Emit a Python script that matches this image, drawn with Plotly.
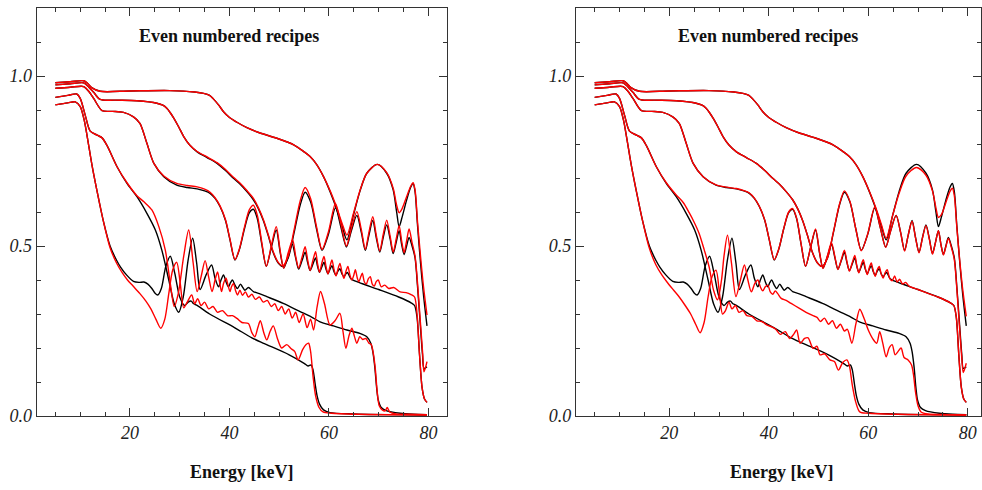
import plotly.graph_objects as go

# --- values: (energy keV, reflectivity) ---

# black curves (model), same in both panels
black_1 = [(5.0, 0.980), (8.0, 0.983), (10.7, 0.986), (11.5, 0.978), (12.3, 0.966), (14.0, 0.955),
           (20.0, 0.956), (28.0, 0.957), (33.0, 0.953), (34.8, 0.949), (36.0, 0.943), (36.8, 0.932),
           (37.8, 0.915), (38.8, 0.895), (40.0, 0.878), (41.5, 0.864), (43.5, 0.848), (46.0, 0.833),
           (49.5, 0.817), (53.0, 0.797), (55.0, 0.777), (56.2, 0.763), (57.5, 0.740), (58.9, 0.704),
           (60.3, 0.657), (61.5, 0.610), (62.6, 0.560), (63.6, 0.518), (64.9, 0.590), (66.2, 0.660),
           (67.6, 0.714), (69.7, 0.740), (71.6, 0.714), (72.9, 0.665), (73.6, 0.600), (74.1, 0.557),
           (74.7, 0.585), (75.6, 0.635), (76.4, 0.672), (76.9, 0.684), (77.3, 0.660), (77.8, 0.560),
           (78.4, 0.450), (79.0, 0.355), (79.7, 0.265)]
black_2 = [(5.0, 0.974), (8.0, 0.977), (10.7, 0.980), (11.7, 0.968), (12.7, 0.952), (14.0, 0.931),
           (17.0, 0.929), (21.4, 0.927), (25.4, 0.920), (26.6, 0.914), (27.4, 0.905), (28.1, 0.892),
           (28.8, 0.876), (29.8, 0.850), (30.8, 0.822), (32.0, 0.797), (33.5, 0.777), (35.5, 0.760),
           (37.5, 0.743), (39.2, 0.722), (40.8, 0.699), (42.2, 0.681), (43.5, 0.660), (44.8, 0.636),
           (45.8, 0.610), (46.8, 0.575), (47.8, 0.530), (48.8, 0.480), (49.8, 0.450), (50.7, 0.440),
           (51.8, 0.465), (53.0, 0.540), (54.2, 0.620), (55.2, 0.658), (56.3, 0.630), (57.5, 0.550),
           (58.6, 0.487), (59.9, 0.535), (61.3, 0.612), (62.4, 0.555), (63.5, 0.497), (64.5, 0.545),
           (65.6, 0.590), (66.5, 0.540), (67.3, 0.487), (68.0, 0.530), (68.8, 0.575), (69.5, 0.525),
           (70.2, 0.482), (70.9, 0.525), (71.6, 0.562), (72.3, 0.520), (72.9, 0.478), (73.5, 0.510),
           (74.1, 0.545), (74.6, 0.505), (75.1, 0.475), (75.6, 0.500), (76.1, 0.525), (76.7, 0.500),
           (77.3, 0.465), (77.8, 0.380), (78.3, 0.280), (78.8, 0.180), (79.1, 0.140), (79.7, 0.145)]
black_3 = [(5.0, 0.964), (8.0, 0.967), (10.7, 0.969), (11.7, 0.955), (12.7, 0.934), (14.4, 0.898),
           (16.5, 0.896), (18.7, 0.893), (20.7, 0.880), (22.0, 0.861), (23.4, 0.802), (24.8, 0.743),
           (26.8, 0.704), (29.4, 0.679), (31.5, 0.672), (33.5, 0.668), (35.0, 0.662), (36.1, 0.655),
           (37.1, 0.640), (38.1, 0.616), (39.2, 0.575), (40.1, 0.518), (41.1, 0.459), (42.0, 0.490),
           (43.0, 0.550), (44.0, 0.598), (44.8, 0.608), (45.6, 0.580), (46.5, 0.505), (47.4, 0.440),
           (48.4, 0.495), (49.4, 0.547), (50.2, 0.480), (50.9, 0.435), (51.8, 0.470), (52.6, 0.505),
           (53.3, 0.465), (53.9, 0.432), (54.6, 0.458), (55.2, 0.482), (55.7, 0.452), (56.2, 0.428),
           (56.8, 0.448), (57.3, 0.465), (57.7, 0.440), (58.1, 0.423), (58.6, 0.440), (59.0, 0.452),
           (59.4, 0.432), (59.8, 0.418), (60.2, 0.432), (60.6, 0.442), (61.0, 0.425), (61.4, 0.414),
           (61.8, 0.426), (62.2, 0.433), (62.6, 0.418), (63.0, 0.410), (63.4, 0.418), (63.7, 0.422),
           (64.4, 0.404), (66.0, 0.393), (70.0, 0.372), (74.0, 0.350), (76.5, 0.333), (77.2, 0.325),
           (77.7, 0.290), (78.2, 0.180), (78.7, 0.085), (79.2, 0.050), (79.7, 0.040)]
black_4 = [(5.0, 0.937), (7.5, 0.943), (9.3, 0.947), (10.0, 0.934), (11.0, 0.885), (12.0, 0.838),
           (13.4, 0.826), (14.4, 0.818), (15.4, 0.795), (17.4, 0.733), (19.4, 0.684), (21.4, 0.645),
           (23.4, 0.596), (25.1, 0.547), (26.4, 0.488), (27.8, 0.400), (28.9, 0.330), (29.8, 0.305),
           (30.7, 0.350), (31.7, 0.460), (32.6, 0.523), (33.4, 0.450), (34.1, 0.372), (35.3, 0.415),
           (36.4, 0.444), (37.1, 0.405), (37.8, 0.380), (38.3, 0.400), (38.8, 0.415), (39.3, 0.395),
           (39.8, 0.380), (40.2, 0.392), (40.6, 0.400), (41.1, 0.385), (41.6, 0.375), (42.2, 0.388),
           (42.6, 0.380), (43.1, 0.370), (43.8, 0.378), (44.8, 0.366), (46.0, 0.360), (47.5, 0.351),
           (50.8, 0.331), (54.2, 0.307), (56.5, 0.291), (58.2, 0.277), (60.9, 0.265), (63.6, 0.253),
           (66.2, 0.243), (67.6, 0.233), (68.4, 0.214), (68.8, 0.190), (69.2, 0.145), (69.6, 0.080),
           (69.9, 0.047), (70.5, 0.025), (71.5, 0.016), (74.3, 0.008), (77.0, 0.005), (79.7, 0.004)]
black_5 = [(5.0, 0.915), (7.5, 0.921), (9.0, 0.924), (10.0, 0.910), (10.8, 0.870), (11.4, 0.822),
           (12.4, 0.735), (13.4, 0.660), (14.7, 0.570), (16.0, 0.500), (17.3, 0.458), (18.1, 0.438),
           (19.3, 0.415), (20.7, 0.396), (21.8, 0.393), (22.8, 0.394), (23.6, 0.388), (24.4, 0.375),
           (25.0, 0.362), (25.6, 0.356), (26.3, 0.375), (27.2, 0.440), (28.1, 0.470), (29.0, 0.420),
           (30.0, 0.350), (31.0, 0.325), (31.7, 0.335), (32.3, 0.338), (32.8, 0.330), (33.4, 0.326),
           (36.0, 0.300), (41.0, 0.260), (44.5, 0.230), (47.0, 0.213), (52.0, 0.180), (55.0, 0.155),
           (55.8, 0.147), (56.4, 0.150), (56.8, 0.135), (57.2, 0.096), (57.6, 0.060), (58.1, 0.035),
           (58.9, 0.018), (60.2, 0.010), (65.0, 0.006), (72.0, 0.004), (79.7, 0.003)]

# red curves, left panel
red_left_1 = [(5.0, 0.980), (8.0, 0.983), (10.7, 0.986), (11.5, 0.978), (12.3, 0.966), (14.0, 0.955),
              (20.0, 0.956), (28.0, 0.957), (33.0, 0.953), (34.8, 0.949), (36.0, 0.943), (36.8, 0.932),
              (37.8, 0.915), (38.8, 0.895), (40.0, 0.878), (41.5, 0.864), (43.5, 0.848), (46.0, 0.833),
              (49.5, 0.817), (53.0, 0.797), (55.0, 0.777), (56.2, 0.763), (57.5, 0.740), (58.9, 0.704),
              (60.3, 0.660), (61.5, 0.615), (62.6, 0.568), (63.6, 0.532), (64.9, 0.595), (66.2, 0.662),
              (67.6, 0.714), (69.7, 0.740), (71.6, 0.716), (72.9, 0.670), (73.6, 0.620), (74.1, 0.598),
              (74.7, 0.610), (75.6, 0.645), (76.4, 0.675), (76.9, 0.686), (77.3, 0.665), (77.8, 0.570),
              (78.4, 0.470), (79.0, 0.380), (79.7, 0.297)]
red_left_2 = [(5.0, 0.974), (8.0, 0.977), (10.7, 0.980), (11.7, 0.968), (12.7, 0.952), (14.0, 0.931),
              (17.0, 0.929), (21.4, 0.927), (25.4, 0.920), (26.6, 0.914), (27.4, 0.905), (28.1, 0.892),
              (28.8, 0.876), (29.8, 0.850), (30.8, 0.822), (32.0, 0.797), (33.5, 0.778), (35.5, 0.762),
              (37.5, 0.745), (39.2, 0.725), (40.8, 0.702), (42.2, 0.684), (43.5, 0.663), (44.8, 0.640),
              (45.8, 0.613), (46.8, 0.578), (47.8, 0.533), (48.8, 0.483), (49.8, 0.452), (50.7, 0.442),
              (51.8, 0.470), (53.0, 0.548), (54.2, 0.632), (55.2, 0.672), (56.3, 0.640), (57.5, 0.556),
              (58.6, 0.490), (59.9, 0.542), (61.3, 0.625), (62.4, 0.565), (63.5, 0.500), (64.5, 0.552),
              (65.6, 0.601), (66.5, 0.548), (67.3, 0.490), (68.0, 0.538), (68.8, 0.586), (69.5, 0.532),
              (70.2, 0.485), (70.9, 0.534), (71.6, 0.576), (72.3, 0.528), (72.9, 0.482), (73.5, 0.520),
              (74.1, 0.560), (74.6, 0.515), (75.1, 0.480), (75.6, 0.515), (76.1, 0.550), (76.7, 0.510),
              (77.3, 0.470), (77.8, 0.390), (78.3, 0.290), (78.8, 0.190), (79.1, 0.130), (79.7, 0.160)]
red_left_3 = [(5.0, 0.964), (8.0, 0.967), (10.7, 0.969), (11.7, 0.955), (12.7, 0.934), (14.4, 0.898),
              (16.5, 0.896), (18.7, 0.893), (20.7, 0.880), (22.0, 0.861), (23.4, 0.802), (24.8, 0.743),
              (26.8, 0.706), (29.4, 0.684), (31.5, 0.678), (33.5, 0.674), (35.0, 0.667), (36.1, 0.658),
              (37.1, 0.642), (38.1, 0.618), (39.2, 0.577), (40.1, 0.520), (41.1, 0.460), (42.0, 0.492),
              (43.0, 0.555), (44.0, 0.607), (44.8, 0.620), (45.6, 0.590), (46.5, 0.510), (47.4, 0.440),
              (48.4, 0.500), (49.4, 0.557), (50.2, 0.485), (50.9, 0.435), (51.8, 0.480), (52.7, 0.518),
              (53.3, 0.470), (53.9, 0.435), (54.6, 0.468), (55.2, 0.498), (55.7, 0.460), (56.2, 0.428),
              (56.8, 0.460), (57.3, 0.483), (57.7, 0.448), (58.1, 0.423), (58.6, 0.452), (59.0, 0.469),
              (59.4, 0.440), (59.8, 0.418), (60.2, 0.440), (60.6, 0.459), (61.0, 0.432), (61.4, 0.412),
              (61.8, 0.432), (62.2, 0.449), (62.6, 0.424), (63.0, 0.405), (63.4, 0.425), (63.8, 0.440),
              (64.2, 0.415), (64.6, 0.400), (65.0, 0.415), (65.3, 0.430), (65.7, 0.405), (66.0, 0.395),
              (66.4, 0.410), (66.7, 0.420), (67.1, 0.395), (67.5, 0.388), (67.9, 0.403), (68.3, 0.410),
              (68.7, 0.388), (69.1, 0.382), (69.5, 0.395), (69.9, 0.400), (70.5, 0.380), (71.2, 0.385),
              (72.0, 0.375), (73.0, 0.378), (74.3, 0.365), (75.5, 0.363), (76.5, 0.357), (77.2, 0.350),
              (77.7, 0.300), (78.2, 0.180), (78.7, 0.085), (79.2, 0.050), (79.7, 0.040)]
red_left_4 = [(5.0, 0.937), (7.5, 0.943), (9.3, 0.947), (10.0, 0.934), (11.0, 0.885), (12.0, 0.838),
              (13.4, 0.826), (14.4, 0.818), (15.4, 0.795), (17.4, 0.733), (19.4, 0.686), (21.4, 0.648),
              (22.8, 0.630), (24.4, 0.606), (25.8, 0.557), (27.1, 0.488), (28.1, 0.390), (28.9, 0.322),
              (29.7, 0.360), (30.8, 0.470), (31.8, 0.547), (32.7, 0.450), (33.5, 0.366), (34.3, 0.410),
              (35.1, 0.457), (35.8, 0.410), (36.5, 0.366), (37.1, 0.400), (37.6, 0.424), (38.0, 0.395),
              (38.4, 0.366), (38.8, 0.390), (39.3, 0.405), (39.7, 0.385), (40.1, 0.366), (40.4, 0.380),
              (40.8, 0.390), (41.2, 0.370), (41.6, 0.356), (42.1, 0.370), (42.6, 0.355), (43.2, 0.365),
              (43.8, 0.350), (44.5, 0.358), (45.2, 0.343), (46.0, 0.350), (46.8, 0.335), (47.6, 0.340),
              (48.4, 0.322), (49.1, 0.330), (49.8, 0.310), (50.5, 0.322), (51.2, 0.300), (51.9, 0.315),
              (52.6, 0.288), (53.3, 0.305), (54.0, 0.275), (54.8, 0.300), (55.6, 0.260), (56.3, 0.285),
              (56.9, 0.253), (57.6, 0.320), (58.3, 0.366), (59.1, 0.330), (60.2, 0.268), (61.2, 0.280),
              (62.2, 0.302), (62.8, 0.250), (63.4, 0.199), (64.0, 0.235), (64.6, 0.258), (65.1, 0.235),
              (65.6, 0.214), (66.2, 0.233), (66.8, 0.225), (67.4, 0.228), (68.0, 0.215), (68.5, 0.210),
              (68.9, 0.185), (69.3, 0.140), (69.7, 0.070), (70.1, 0.030), (70.7, 0.018), (71.3, 0.015),
              (71.7, 0.025), (72.2, 0.012), (73.5, 0.006), (76.0, 0.005), (79.7, 0.004)]
red_left_5 = [(5.0, 0.915), (7.5, 0.921), (9.0, 0.924), (10.0, 0.910), (10.8, 0.870), (11.4, 0.822),
              (12.4, 0.735), (13.4, 0.660), (14.7, 0.570), (16.0, 0.495), (17.3, 0.450), (18.5, 0.420),
              (19.5, 0.400), (20.7, 0.381), (22.0, 0.360), (23.2, 0.338), (24.2, 0.315), (25.2, 0.285),
              (26.2, 0.258), (27.0, 0.285), (27.8, 0.360), (28.6, 0.430), (29.4, 0.452), (30.1, 0.390),
              (30.8, 0.318), (31.5, 0.335), (32.4, 0.356), (33.0, 0.330), (33.6, 0.345), (34.3, 0.325),
              (35.0, 0.335), (35.8, 0.315), (36.7, 0.322), (37.6, 0.305), (38.6, 0.310), (39.6, 0.295),
              (40.6, 0.295), (41.5, 0.287), (42.5, 0.275), (43.8, 0.272), (44.5, 0.245), (45.1, 0.233),
              (45.7, 0.260), (46.2, 0.280), (46.9, 0.245), (47.5, 0.224), (48.2, 0.250), (48.8, 0.265),
              (49.7, 0.225), (50.5, 0.200), (51.5, 0.210), (52.4, 0.198), (53.1, 0.190), (53.8, 0.165),
              (54.7, 0.195), (55.4, 0.210), (55.9, 0.214), (56.3, 0.190), (56.8, 0.116), (57.3, 0.060),
              (58.0, 0.025), (58.8, 0.012), (60.5, 0.008), (66.0, 0.005), (79.7, 0.003)]

# red curves, right panel
red_right_1 = [(5.0, 0.980), (8.0, 0.983), (10.7, 0.986), (11.5, 0.978), (12.3, 0.966), (14.0, 0.955),
               (20.0, 0.956), (28.0, 0.957), (33.0, 0.953), (34.8, 0.949), (36.0, 0.943), (36.8, 0.932),
               (37.8, 0.915), (38.8, 0.895), (40.0, 0.878), (41.5, 0.864), (43.5, 0.848), (46.0, 0.833),
               (49.5, 0.817), (53.0, 0.797), (55.0, 0.777), (56.2, 0.763), (57.5, 0.740), (58.9, 0.704),
               (60.3, 0.658), (61.5, 0.613), (62.6, 0.565), (63.6, 0.523), (64.9, 0.590), (66.2, 0.655),
               (67.6, 0.706), (69.7, 0.731), (71.6, 0.708), (72.9, 0.662), (73.6, 0.612), (74.1, 0.584),
               (74.7, 0.592), (75.6, 0.628), (76.4, 0.660), (76.9, 0.670), (77.3, 0.648), (77.8, 0.555),
               (78.4, 0.455), (79.0, 0.370), (79.7, 0.293)]
red_right_2 = [(5.0, 0.974), (8.0, 0.977), (10.7, 0.980), (11.7, 0.968), (12.7, 0.952), (14.0, 0.931),
               (17.0, 0.929), (21.4, 0.927), (25.4, 0.920), (26.6, 0.914), (27.4, 0.905), (28.1, 0.892),
               (28.8, 0.876), (29.8, 0.850), (30.8, 0.822), (32.0, 0.797), (33.5, 0.777), (35.5, 0.760),
               (37.5, 0.743), (39.2, 0.722), (40.8, 0.699), (42.2, 0.681), (43.5, 0.660), (44.8, 0.636),
               (45.8, 0.610), (46.8, 0.575), (47.8, 0.530), (48.8, 0.480), (49.8, 0.450), (50.7, 0.440),
               (51.8, 0.465), (53.0, 0.542), (54.2, 0.622), (55.2, 0.662), (56.3, 0.632), (57.5, 0.550),
               (58.6, 0.486), (59.9, 0.536), (61.3, 0.615), (62.4, 0.556), (63.5, 0.496), (64.5, 0.545),
               (65.6, 0.590), (66.5, 0.540), (67.3, 0.485), (68.0, 0.530), (68.8, 0.573), (69.5, 0.524),
               (70.2, 0.480), (70.9, 0.524), (71.6, 0.560), (72.3, 0.518), (72.9, 0.476), (73.5, 0.510),
               (74.1, 0.545), (74.6, 0.505), (75.1, 0.474), (75.6, 0.498), (76.1, 0.522), (76.7, 0.496),
               (77.3, 0.460), (77.8, 0.375), (78.3, 0.270), (78.8, 0.170), (79.1, 0.128), (79.7, 0.155)]
red_right_3 = [(5.0, 0.964), (8.0, 0.967), (10.7, 0.969), (11.7, 0.955), (12.7, 0.934), (14.4, 0.898),
               (16.5, 0.896), (18.7, 0.893), (20.7, 0.880), (22.0, 0.861), (23.4, 0.802), (24.8, 0.743),
               (26.8, 0.704), (29.4, 0.680), (31.5, 0.673), (33.5, 0.669), (35.0, 0.663), (36.1, 0.656),
               (37.1, 0.641), (38.1, 0.617), (39.2, 0.576), (40.1, 0.519), (41.1, 0.460), (42.0, 0.491),
               (43.0, 0.551), (44.0, 0.600), (44.8, 0.610), (45.6, 0.582), (46.5, 0.506), (47.4, 0.440),
               (48.4, 0.496), (49.4, 0.550), (50.2, 0.482), (50.9, 0.434), (51.8, 0.472), (52.6, 0.510),
               (53.3, 0.468), (53.9, 0.431), (54.6, 0.461), (55.2, 0.488), (55.7, 0.455), (56.2, 0.426),
               (56.8, 0.452), (57.3, 0.472), (57.7, 0.442), (58.1, 0.421), (58.6, 0.445), (59.0, 0.460),
               (59.4, 0.435), (59.8, 0.416), (60.2, 0.436), (60.6, 0.450), (61.0, 0.427), (61.4, 0.411),
               (61.8, 0.430), (62.2, 0.440), (62.6, 0.418), (63.0, 0.406), (63.4, 0.422), (63.8, 0.430),
               (64.3, 0.405), (64.8, 0.398), (65.3, 0.412), (65.8, 0.394), (66.3, 0.402), (66.9, 0.388),
               (67.5, 0.393), (68.2, 0.382), (70.0, 0.372), (74.0, 0.350), (76.5, 0.333), (77.2, 0.325),
               (77.7, 0.290), (78.2, 0.180), (78.7, 0.085), (79.2, 0.050), (79.7, 0.040)]
red_right_4 = [(5.0, 0.937), (7.5, 0.943), (9.3, 0.947), (10.0, 0.934), (11.0, 0.885), (12.0, 0.838),
               (13.4, 0.826), (14.4, 0.818), (15.4, 0.795), (17.4, 0.733), (19.4, 0.686), (21.4, 0.650),
               (22.8, 0.628), (24.0, 0.598), (25.0, 0.570), (26.0, 0.537), (27.0, 0.490), (28.0, 0.439),
               (28.9, 0.370), (29.7, 0.342), (30.5, 0.400), (31.0, 0.470), (31.7, 0.532), (32.5, 0.450),
               (33.4, 0.351), (34.3, 0.400), (35.1, 0.444), (35.8, 0.400), (36.5, 0.365), (37.2, 0.390),
               (37.8, 0.400), (38.3, 0.380), (38.8, 0.368), (39.3, 0.380), (39.8, 0.385), (40.3, 0.365),
               (40.8, 0.358), (41.3, 0.368), (41.8, 0.360), (42.5, 0.346), (43.5, 0.340), (44.5, 0.331),
               (46.0, 0.318), (47.5, 0.305), (48.9, 0.295), (49.7, 0.290), (50.4, 0.278), (51.2, 0.288),
               (52.0, 0.270), (52.8, 0.280), (53.6, 0.258), (54.4, 0.270), (55.2, 0.250), (55.8, 0.255),
               (56.7, 0.214), (57.5, 0.270), (58.3, 0.314), (59.2, 0.285), (60.0, 0.253), (61.0, 0.225),
               (61.7, 0.214), (62.3, 0.248), (62.9, 0.215), (63.6, 0.174), (64.2, 0.200), (64.8, 0.210),
               (65.4, 0.180), (66.0, 0.190), (66.6, 0.200), (67.2, 0.172), (68.0, 0.165), (68.7, 0.150),
               (69.1, 0.120), (69.5, 0.070), (70.0, 0.030), (70.6, 0.012), (72.0, 0.006), (76.0, 0.004),
               (79.7, 0.003)]
red_right_5 = [(5.0, 0.915), (7.5, 0.921), (9.0, 0.924), (10.0, 0.910), (10.8, 0.870), (11.4, 0.822),
               (12.4, 0.735), (13.4, 0.660), (14.7, 0.570), (16.0, 0.493), (17.3, 0.445), (18.5, 0.415),
               (19.5, 0.395), (20.7, 0.373), (22.0, 0.350), (23.2, 0.325), (24.3, 0.300), (25.3, 0.270),
               (26.2, 0.245), (27.0, 0.275), (27.8, 0.350), (28.6, 0.410), (29.4, 0.429), (30.1, 0.360),
               (30.7, 0.300), (31.3, 0.310), (32.0, 0.335), (32.6, 0.315), (33.3, 0.325), (34.0, 0.305),
               (34.8, 0.310), (35.6, 0.295), (36.6, 0.293), (37.6, 0.280), (38.6, 0.278), (39.6, 0.268),
               (40.6, 0.262), (41.4, 0.255), (42.3, 0.240), (43.3, 0.248), (44.2, 0.228), (45.0, 0.240),
               (45.6, 0.253), (46.3, 0.214), (47.2, 0.228), (47.9, 0.230), (48.9, 0.199), (49.7, 0.205),
               (50.3, 0.180), (51.2, 0.183), (52.3, 0.165), (53.2, 0.160), (54.0, 0.135), (54.9, 0.158),
               (55.7, 0.165), (56.2, 0.148), (56.8, 0.090), (57.5, 0.040), (58.3, 0.012), (60.0, 0.008),
               (66.0, 0.005), (79.7, 0.003)]

title_text = "Even numbered recipes"
xlabel_text = "Energy [keV]"
y_tick_vals = [0.0, 0.5, 1.0]
x_tick_vals = [20, 40, 60, 80]

black_curves = [black_1, black_2, black_3, black_4, black_5]
left_reds = [red_left_1, red_left_2, red_left_3, red_left_4, red_left_5]
right_reds = [red_right_1, red_right_2, red_right_3, red_right_4, red_right_5]


def add_curve(fig, pts, color, xa, ya):
    fig.add_trace(go.Scatter(
        x=[p[0] for p in pts], y=[p[1] for p in pts],
        mode="lines", line=dict(color=color, width=1.4, shape="spline", smoothing=0.8),
        xaxis=xa, yaxis=ya, hoverinfo="skip", showlegend=False,
    ))


fig = go.Figure()
for xa, ya, reds in [("x", "y", left_reds), ("x2", "y2", right_reds)]:
    for pts in black_curves:
        add_curve(fig, pts, "#000000", xa, ya)
    for pts in reds:
        add_curve(fig, pts, "#ff0000", xa, ya)

# --- axes: IDL-like box with inward ticks on all four sides ---
tick_font = dict(family="Liberation Serif", size=18, color="#222", style="italic")
frame = dict(showline=True, linecolor="#333", linewidth=1.3, mirror="allticks",
             ticks="inside", tickcolor="#333", tickwidth=1.2, ticklen=8,
             showgrid=False, zeroline=False, tickfont=tick_font, automargin=False)
x_common = dict(frame, tickvals=x_tick_vals,
                minor=dict(dtick=5, tick0=0, ticks="inside", ticklen=4, tickcolor="#333", showgrid=False))
y_common = dict(frame, tickvals=y_tick_vals, ticktext=["%.1f" % v for v in y_tick_vals], range=[0, 1.2],
                minor=dict(dtick=0.1, tick0=0, ticks="inside", ticklen=4, tickcolor="#333", showgrid=False))

y_dom = [1 - 416 / 490, 1 - 8 / 490]
fig.update_layout(
    width=982, height=490,
    margin=dict(l=0, r=0, t=0, b=0),
    paper_bgcolor="white", plot_bgcolor="white",
    showlegend=False,
    xaxis=dict(x_common, domain=[36.7 / 982, 446.7 / 982], range=[1.25, 83.66], anchor="y"),
    yaxis=dict(y_common, domain=y_dom, anchor="x"),
    xaxis2=dict(x_common, domain=[576 / 982, 981 / 982], range=[1.25, 82.66], anchor="y2"),
    yaxis2=dict(y_common, domain=y_dom, anchor="x2"),
)

title_font = dict(family="Liberation Serif", size=18, color="#111", weight="bold")
for cx, tx in [(241.7, 229), (781, 768.3)]:
    fig.add_annotation(text=title_text, x=tx / 982, y=1 - 36 / 490, xref="paper", yref="paper",
                       showarrow=False, font=title_font, xanchor="center", yanchor="middle")
    fig.add_annotation(text=xlabel_text, x=cx / 982, y=1 - 472 / 490, xref="paper", yref="paper",
                       showarrow=False, font=title_font, xanchor="center", yanchor="middle")

# page body has a default 8px margin; drop it so the figure fills the window
fig.write_html("out.html", config={"displayModeBar": False},
               post_script="document.body.style.margin='0px';document.body.style.overflow='hidden';")
